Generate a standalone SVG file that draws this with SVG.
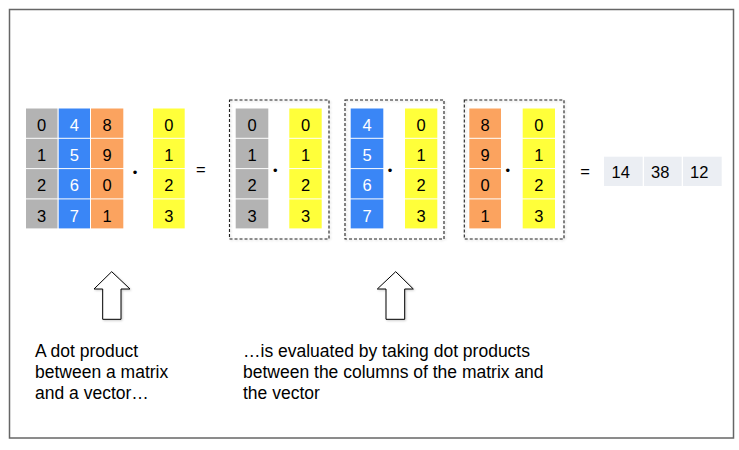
<svg xmlns="http://www.w3.org/2000/svg" width="739" height="450" viewBox="0 0 739 450">
<style>
  .t { font-family: "Liberation Sans", Arial, sans-serif; font-size: 16.5px; fill: #000; text-anchor: middle; }
  .tw { fill: #fff; }
  .lbl { font-family: "Liberation Sans", Arial, sans-serif; font-size: 17.5px; fill: #000; }
  .gray { fill: #b3b3b3; }
  .blue { fill: #3a86f6; }
  .orange { fill: #fba35f; }
  .yellow { fill: #ffff3a; }
  .res { fill: #ebeef3; }
  .dash { fill: none; stroke: #222; stroke-width: 1.1; stroke-dasharray: 3 2; filter: url(#sh); }
  .arrow { fill: #fff; stroke: #000; stroke-width: 1; filter: url(#sh); }
  .dot { font-family: "Liberation Sans", Arial, sans-serif; font-size: 13px; text-anchor: middle; fill: #000; }
</style>
<defs>
  <filter id="sh" x="-10%" y="-10%" width="130%" height="130%">
    <feDropShadow dx="1" dy="1" stdDeviation="1" flood-color="#000" flood-opacity="0.2"/>
  </filter>
</defs>
<rect x="0" y="0" width="739" height="450" fill="#fff"/>
<rect id="frame" x="9.5" y="9.5" width="724" height="428.5" fill="#fff" stroke="#666" stroke-width="1.5"/>

<g id="matrix">
  <rect class="gray" x="26" y="108.5" width="31.5" height="29.3"/>
  <rect class="gray" x="26" y="138.8" width="31.5" height="29.3"/>
  <rect class="gray" x="26" y="169.1" width="31.5" height="29.3"/>
  <rect class="gray" x="26" y="199.4" width="31.5" height="29"/>
  <rect class="blue" x="58.7" y="108.5" width="31.3" height="29.3"/>
  <rect class="blue" x="58.7" y="138.8" width="31.3" height="29.3"/>
  <rect class="blue" x="58.7" y="169.1" width="31.3" height="29.3"/>
  <rect class="blue" x="58.7" y="199.4" width="31.3" height="29"/>
  <rect class="orange" x="91" y="108.5" width="32.3" height="29.3"/>
  <rect class="orange" x="91" y="138.8" width="32.3" height="29.3"/>
  <rect class="orange" x="91" y="169.1" width="32.3" height="29.3"/>
  <rect class="orange" x="91" y="199.4" width="32.3" height="29"/>
  <text class="t" x="41.7" y="130.8">0</text>
  <text class="t" x="41.7" y="161.1">1</text>
  <text class="t" x="41.7" y="191.4">2</text>
  <text class="t" x="41.7" y="221.5">3</text>
  <text class="t tw" x="74.3" y="130.8">4</text>
  <text class="t tw" x="74.3" y="161.1">5</text>
  <text class="t tw" x="74.3" y="191.4">6</text>
  <text class="t tw" x="74.3" y="221.5">7</text>
  <text class="t" x="107.2" y="130.8">8</text>
  <text class="t" x="107.2" y="161.1">9</text>
  <text class="t" x="107.2" y="191.4">0</text>
  <text class="t" x="107.2" y="221.5">1</text>
</g>

<g id="vector">
  <rect class="yellow" x="153" y="108.5" width="31.7" height="29.3"/>
  <rect class="yellow" x="153" y="138.8" width="31.7" height="29.3"/>
  <rect class="yellow" x="153" y="169.1" width="31.7" height="29.3"/>
  <rect class="yellow" x="153" y="199.4" width="31.7" height="29"/>
  <text class="t" x="168.8" y="130.8">0</text>
  <text class="t" x="168.8" y="161.1">1</text>
  <text class="t" x="168.8" y="191.4">2</text>
  <text class="t" x="168.8" y="221.5">3</text>
</g>
<text class="dot" x="135" y="176.5">•</text>
<text class="t" x="200.7" y="175">=</text>

<g id="group1">
  <rect class="dash" x="229.5" y="100" width="99.5" height="139"/>
  <rect class="gray" x="235.7" y="108.5" width="32.6" height="29.3"/>
  <rect class="gray" x="235.7" y="138.8" width="32.6" height="29.3"/>
  <rect class="gray" x="235.7" y="169.1" width="32.6" height="29.3"/>
  <rect class="gray" x="235.7" y="199.4" width="32.6" height="29"/>
  <rect class="yellow" x="289.3" y="108.5" width="32.4" height="29.3"/>
  <rect class="yellow" x="289.3" y="138.8" width="32.4" height="29.3"/>
  <rect class="yellow" x="289.3" y="169.1" width="32.4" height="29.3"/>
  <rect class="yellow" x="289.3" y="199.4" width="32.4" height="29"/>
  <text class="t" x="252" y="130.8">0</text>
  <text class="t" x="252" y="161.1">1</text>
  <text class="t" x="252" y="191.4">2</text>
  <text class="t" x="252" y="221.5">3</text>
  <text class="t" x="305.5" y="130.8">0</text>
  <text class="t" x="305.5" y="161.1">1</text>
  <text class="t" x="305.5" y="191.4">2</text>
  <text class="t" x="305.5" y="221.5">3</text>
  <text class="dot" x="275.3" y="175">•</text>
</g>

<g id="group2">
  <rect class="dash" x="345" y="100" width="99" height="139"/>
  <rect class="blue" x="350.7" y="108.5" width="32.6" height="29.3"/>
  <rect class="blue" x="350.7" y="138.8" width="32.6" height="29.3"/>
  <rect class="blue" x="350.7" y="169.1" width="32.6" height="29.3"/>
  <rect class="blue" x="350.7" y="199.4" width="32.6" height="29"/>
  <rect class="yellow" x="405" y="108.5" width="32.3" height="29.3"/>
  <rect class="yellow" x="405" y="138.8" width="32.3" height="29.3"/>
  <rect class="yellow" x="405" y="169.1" width="32.3" height="29.3"/>
  <rect class="yellow" x="405" y="199.4" width="32.3" height="29"/>
  <text class="t tw" x="367" y="130.8">4</text>
  <text class="t tw" x="367" y="161.1">5</text>
  <text class="t tw" x="367" y="191.4">6</text>
  <text class="t tw" x="367" y="221.5">7</text>
  <text class="t" x="421.2" y="130.8">0</text>
  <text class="t" x="421.2" y="161.1">1</text>
  <text class="t" x="421.2" y="191.4">2</text>
  <text class="t" x="421.2" y="221.5">3</text>
  <text class="dot" x="390" y="175">•</text>
</g>

<g id="group3">
  <rect class="dash" x="464.3" y="100" width="99.7" height="139"/>
  <rect class="orange" x="469.3" y="108.5" width="31.7" height="29.3"/>
  <rect class="orange" x="469.3" y="138.8" width="31.7" height="29.3"/>
  <rect class="orange" x="469.3" y="169.1" width="31.7" height="29.3"/>
  <rect class="orange" x="469.3" y="199.4" width="31.7" height="29"/>
  <rect class="yellow" x="522.7" y="108.5" width="32.3" height="29.3"/>
  <rect class="yellow" x="522.7" y="138.8" width="32.3" height="29.3"/>
  <rect class="yellow" x="522.7" y="169.1" width="32.3" height="29.3"/>
  <rect class="yellow" x="522.7" y="199.4" width="32.3" height="29"/>
  <text class="t" x="485.2" y="130.8">8</text>
  <text class="t" x="485.2" y="161.1">9</text>
  <text class="t" x="485.2" y="191.4">0</text>
  <text class="t" x="485.2" y="221.5">1</text>
  <text class="t" x="538.8" y="130.8">0</text>
  <text class="t" x="538.8" y="161.1">1</text>
  <text class="t" x="538.8" y="191.4">2</text>
  <text class="t" x="538.8" y="221.5">3</text>
  <text class="dot" x="507.7" y="175">•</text>
</g>
<text class="t" x="585" y="176.5">=</text>

<g id="result">
  <rect class="res" x="604" y="156.7" width="38.7" height="29.3"/>
  <rect class="res" x="644" y="156.7" width="37.7" height="29.3"/>
  <rect class="res" x="683" y="156.7" width="38.7" height="29.3"/>
  <text class="t" x="611.5" y="177.8" style="text-anchor:start">14</text>
  <text class="t" x="651" y="177.8" style="text-anchor:start">38</text>
  <text class="t" x="690" y="177.8" style="text-anchor:start">12</text>
</g>

<g id="connectors">
  <polygon class="arrow" points="111.7,271.7 130,289 121,289 121,319.3 102.7,319.3 102.7,289 94,289"/>
  <polygon class="arrow" points="395.7,271.7 413.3,289 404.7,289 404.7,319.3 386,319.3 386,289 377.3,289"/>
</g>

<g id="label1">
  <text class="lbl" x="35" y="357">A dot product</text>
  <text class="lbl" x="35" y="378">between a matrix</text>
  <text class="lbl" x="35" y="399">and a vector…</text>
</g>
<g id="label2">
  <text class="lbl" x="243" y="357">…is evaluated by taking dot products</text>
  <text class="lbl" x="243" y="378">between the columns of the matrix and</text>
  <text class="lbl" x="243" y="399">the vector</text>
</g>
</svg>
